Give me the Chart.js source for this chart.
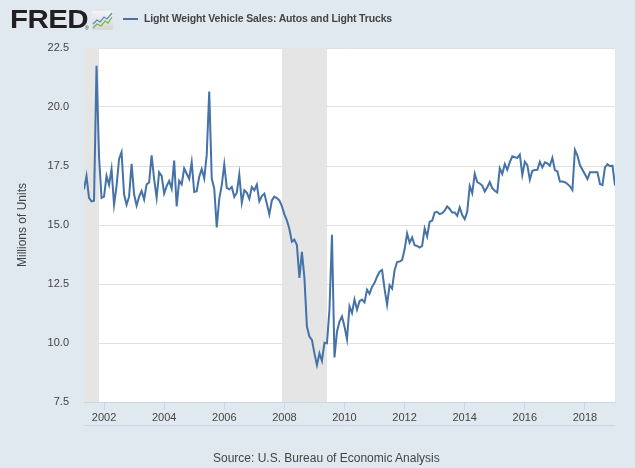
<!DOCTYPE html>
<html>
<head>
<meta charset="utf-8">
<script src="https://cdn.jsdelivr.net/npm/chart.js@4.4.0/dist/chart.umd.min.js"></script>
<style>
  html, body { margin: 0; padding: 0; background: #e1e9f0; }
  #wrap { position: relative; width: 635px; height: 468px; background: #e1e9f0; overflow: hidden; font-family: "Liberation Sans", Arial, sans-serif; }
  #c { position: absolute; left: 0; top: 0; }
  #logo { position: absolute; left: 10px; top: 4px; font-size: 25px; font-weight: bold; color: #231f20; letter-spacing: -0.5px; transform: scaleX(1.18); transform-origin: left top; line-height: 30px; }
  #reg { position: absolute; left: 85px; top: 25px; font-size: 5px; color: #231f20; }
  #icon { position: absolute; left: 92px; top: 11px; }
  #legline { position: absolute; left: 123px; top: 18px; width: 15px; height: 2px; background: #4572a7; }
  #legtext { position: absolute; left: 144px; top: 11px; font-size: 10.5px; font-weight: bold; color: #444; letter-spacing: -0.15px; line-height: 14px; white-space: nowrap; }
  #source { position: absolute; left: 213px; top: 451px; font-size: 12px; color: #444; line-height: 14px; white-space: nowrap; }
</style>
</head>
<body>
<div id="wrap">
  <canvas id="c" width="635" height="468"></canvas>
  <div id="logo">FRED</div>
  <div id="reg">®</div>
  <svg id="icon" width="21" height="19" viewBox="0 0 21 19">
    <defs>
      <linearGradient id="g" x1="0" y1="0" x2="0" y2="1">
        <stop offset="0" stop-color="#f4f4f4"/>
        <stop offset="1" stop-color="#d6d6d6"/>
      </linearGradient>
    </defs>
    <rect x="0" y="0" width="21" height="19" rx="1.5" fill="url(#g)"/>
    <polyline points="1,13 5,9 8,11 12,6 15,8 20,2" fill="none" stroke="#5b8cc4" stroke-width="1.3"/>
    <polyline points="1,17 5,13 9,15 13,10 16,12 20,6" fill="none" stroke="#7ab648" stroke-width="1.3"/>
  </svg>
  <div id="legline"></div>
  <div id="legtext">Light Weight Vehicle Sales: Autos and Light Trucks</div>
  <div id="source">Source: U.S. Bureau of Economic Analysis</div>
</div>
<script>
// ---- Data (millions of units, seasonally adjusted annual rate) ----
const firstYear = 2001;
const firstMonth = 5; // May 2001
const v2001 = [16.51, 17.08, 16.15, 16.00, 16.03, 21.75, 17.90, 16.15];
const v2002 = [16.20, 17.08, 16.70, 17.37, 15.86, 16.65, 17.80, 18.09, 16.30, 15.86, 16.20, 17.59];
const v2003 = [16.30, 15.82, 16.20, 16.44, 16.08, 16.72, 16.80, 17.95, 16.94, 16.15, 17.23, 17.08];
const v2004 = [16.34, 16.65, 16.87, 16.54, 17.73, 15.79, 16.87, 16.72, 17.40, 17.17, 16.95, 17.66];
const v2005 = [16.40, 16.43, 17.04, 17.37, 16.97, 17.97, 20.66, 16.97, 16.54, 14.90, 16.11, 16.69];
const v2006 = [17.57, 16.57, 16.51, 16.61, 16.19, 16.37, 17.14, 15.94, 16.47, 16.37, 16.11, 16.61];
const v2007 = [16.47, 16.71, 16.00, 16.23, 16.33, 15.90, 15.45, 16.04, 16.20, 16.14, 16.04, 15.80];
const v2008 = [15.45, 15.20, 14.83, 14.29, 14.38, 14.15, 12.76, 13.86, 12.76, 10.70, 10.27, 10.13];
const v2009 = [9.56, 9.06, 9.56, 9.24, 10.01, 9.99, 11.41, 14.59, 9.39, 10.48, 10.91, 11.13];
const v2010 = [10.70, 10.16, 11.55, 11.27, 11.84, 11.41, 11.77, 11.84, 11.72, 12.26, 12.09, 12.38];
const v2011 = [12.55, 12.81, 13.02, 13.09, 12.29, 11.62, 12.45, 12.30, 13.08, 13.43, 13.45, 13.51];
const v2012 = [13.97, 14.64, 14.25, 14.47, 14.14, 14.11, 14.04, 14.11, 14.85, 14.51, 15.14, 15.18];
const v2013 = [15.53, 15.56, 15.46, 15.50, 15.61, 15.79, 15.68, 15.53, 15.53, 15.39, 15.75, 15.42];
const v2014 = [15.25, 15.56, 16.65, 16.35, 17.17, 16.82, 16.76, 16.67, 16.42, 16.60, 16.82, 16.56];
const v2015 = [16.45, 16.38, 17.40, 17.16, 17.58, 17.34, 17.66, 17.91, 17.87, 17.84, 17.98, 17.12];
const v2016 = [17.68, 17.54, 16.92, 17.30, 17.33, 17.34, 17.68, 17.44, 17.66, 17.61, 17.51, 17.84];
const v2017 = [17.33, 17.27, 16.84, 16.84, 16.81, 16.74, 16.64, 16.48, 18.18, 17.94, 17.54, 17.34];
const v2018 = [17.15, 16.95, 17.23, 17.23, 17.23, 17.23, 16.74, 16.69, 17.44, 17.58, 17.49, 17.51];
const v2019 = [16.67];

const yearlyValues = [v2001, v2002, v2003, v2004, v2005, v2006, v2007, v2008, v2009, v2010,
                      v2011, v2012, v2013, v2014, v2015, v2016, v2017, v2018, v2019];

// Recessions (start month, end month) as decimal years
const recessionStarts = [2001 + 2 / 12, 2007 + 11 / 12];
const recessionEnds   = [2001 + 10 / 12, 2009 + 5 / 12];

// Tick labels
const xTicks = [2002, 2004, 2006, 2008, 2010, 2012, 2014, 2016, 2018];
const yTicks = [7.5, 10.0, 12.5, 15.0, 17.5, 20.0, 22.5];

const seriesLabel = 'Light Weight Vehicle Sales: Autos and Light Trucks';
const yTitle = 'Millions of Units';

// ---- Build points ----
const points = [];
yearlyValues.forEach((arr, yi) => {
  const year = firstYear + yi;
  const startM = yi === 0 ? firstMonth : 1;
  arr.forEach((v, k) => {
    points.push({ x: year + (startM - 1 + k) / 12, y: v });
  });
});
const xMin = points[0].x;
const xMax = points[points.length - 1].x;

const AXIS_BLUE = '#ccd6eb';
const FONT = '"Liberation Sans", Arial, sans-serif';

const decor = {
  id: 'fredDecor',
  beforeDraw(chart) {
    const { ctx, chartArea } = chart;
    ctx.save();
    ctx.fillStyle = '#ffffff';
    ctx.fillRect(chartArea.left, chartArea.top, chartArea.right - chartArea.left, chartArea.bottom - chartArea.top);
    ctx.restore();
  },
  beforeDatasetsDraw(chart) {
    const { ctx, chartArea } = chart;
    const xs = chart.scales.x;
    ctx.save();
    ctx.fillStyle = '#e5e5e5';
    for (let i = 0; i < recessionStarts.length; i++) {
      let a = xs.getPixelForValue(recessionStarts[i]);
      let b = xs.getPixelForValue(recessionEnds[i]);
      a = Math.max(a, chartArea.left);
      b = Math.min(b, chartArea.right);
      if (b > a) ctx.fillRect(a, chartArea.top, b - a, chartArea.bottom - chartArea.top);
    }
    ctx.restore();
  },
  afterDraw(chart) {
    const { ctx, chartArea } = chart;
    ctx.save();
    ctx.strokeStyle = AXIS_BLUE;
    ctx.lineWidth = 1;
    ctx.beginPath();
    ctx.moveTo(chartArea.left, 425.5);
    ctx.lineTo(chartArea.right, 425.5);
    ctx.stroke();
    ctx.restore();
  }
};

new Chart(document.getElementById('c'), {
  type: 'line',
  data: {
    datasets: [{
      label: seriesLabel,
      data: points,
      borderColor: '#4572a7',
      borderWidth: 2,
      pointRadius: 0,
      tension: 0,
      fill: false
    }]
  },
  options: {
    responsive: false,
    animation: false,
    devicePixelRatio: 1,
    layout: { padding: { left: 0, top: 48, right: 20, bottom: 0 } },
    plugins: { legend: { display: false }, tooltip: { enabled: false } },
    scales: {
      x: {
        type: 'linear',
        min: xMin,
        max: xMax,
        afterBuildTicks(scale) { scale.ticks = xTicks.map(v => ({ value: v })); },
        afterFit(scale) { scale.height = 66; },
        grid: { drawOnChartArea: false, drawTicks: true, tickLength: 8, tickColor: AXIS_BLUE, color: AXIS_BLUE },
        border: { display: true, color: AXIS_BLUE, width: 1 },
        ticks: {
          autoSkip: false, maxRotation: 0, padding: 1,
          color: '#444', font: { family: FONT, size: 11 },
          callback: v => String(v)
        }
      },
      y: {
        min: 7.5,
        max: 22.5,
        afterBuildTicks(scale) { scale.ticks = yTicks.map(v => ({ value: v })); },
        afterFit(scale) { scale.width = 84; },
        grid: {
          drawTicks: false,
          color: ctx => (ctx.tick && ctx.tick.value === 7.5) ? 'rgba(0,0,0,0)' : '#e0e0e0'
        },
        border: { display: false },
        title: {
          display: true, text: yTitle, color: '#444',
          font: { family: FONT, size: 12 }, padding: { top: 15, bottom: 0 }
        },
        ticks: {
          padding: 15, color: '#444', font: { family: FONT, size: 11 },
          callback: v => Number(v).toFixed(1)
        }
      }
    }
  },
  plugins: [decor]
});
</script>
</body>
</html>
